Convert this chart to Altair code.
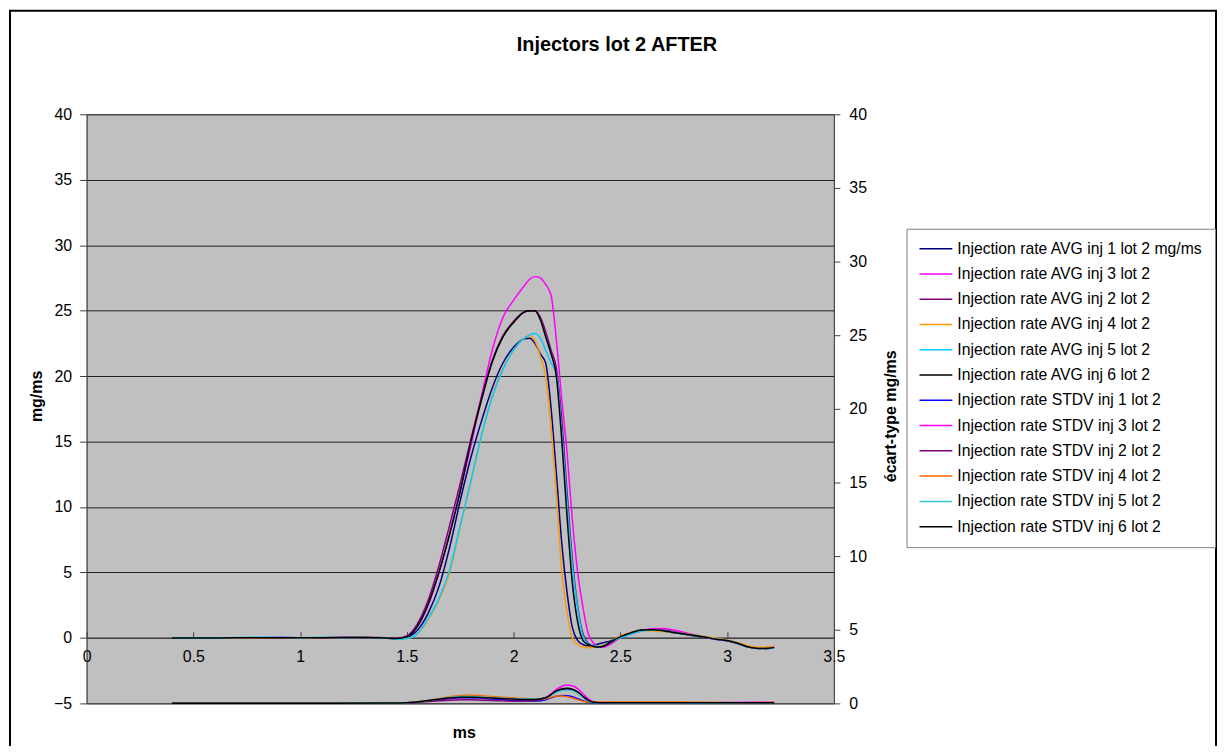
import altair as alt
import pandas as pd

FONT = "Liberation Sans"

SERIES = [
    "Injection rate AVG inj 1 lot 2 mg/ms",
    "Injection rate AVG inj 3 lot 2",
    "Injection rate AVG inj 2 lot 2",
    "Injection rate AVG inj 4 lot 2",
    "Injection rate AVG inj 5 lot 2",
    "Injection rate AVG inj 6 lot 2",
    "Injection rate STDV inj 1 lot 2",
    "Injection rate STDV inj 3 lot 2",
    "Injection rate STDV inj 2 lot 2",
    "Injection rate STDV inj 4 lot 2",
    "Injection rate STDV inj 5 lot 2",
    "Injection rate STDV inj 6 lot 2",
]
COLORS = ["#000080", "#FF00FF", "#800080", "#FF9900", "#00CCFF", "#000000",
          "#0000FF", "#FF00FF", "#800080", "#FF6600", "#33CCCC", "#000000"]

# time axis (ms) for the average injection-rate curves
AVG_X = [0.4, 0.6, 0.8, 0.9, 1.0, 1.1, 1.2, 1.3, 1.4, 1.45,
         1.5, 1.55, 1.6, 1.65, 1.7, 1.75, 1.8, 1.85, 1.9, 1.95, 2.0, 2.05,
         2.075, 2.1, 2.125, 2.15, 2.175, 2.2, 2.225, 2.25, 2.275, 2.3, 2.325, 2.35,
         2.375, 2.4, 2.425, 2.45,
         2.5, 2.55, 2.6, 2.65, 2.7, 2.75, 2.8, 2.85, 2.9, 2.95, 3.0, 3.05, 3.1,
         3.15, 3.2, 3.22]

AVG_INJ1 = [0, 0, 0.02, 0.02, 0.01, 0.02, 0.02, 0.03, 0.0, -0.08,
            0.05, 0.6, 1.9, 3.9, 6.9, 10.5, 13.8, 16.6, 19.1, 21.0, 22.2, 22.85,
            22.9, 22.5, 21.7, 21.0, 17.6, 12.6, 7.3, 3.5, 0.8, -0.2, -0.5, -0.6,
            -0.55, -0.45, -0.35, -0.25,
            0.05, 0.35, 0.58, 0.6, 0.52, 0.4, 0.28, 0.15, 0.03, -0.1, -0.22, -0.42, -0.7,
            -0.78, -0.75, -0.72]
AVG_INJ3 = [0, 0, 0.0, 0.05, 0.01, 0.02, 0.03, 0.03, 0.0, -0.05,
            0.1, 0.9, 2.5, 5.0, 8.0, 11.3, 14.7, 18.5, 22.0, 24.5, 25.8, 26.9,
            27.4, 27.6, 27.5, 27.0, 26.2, 22.8, 18.3, 14.2, 9.0, 5.0, 2.3, 0.3,
            -0.4, -0.65, -0.7, -0.5,
            0.0, 0.3, 0.55, 0.7, 0.72, 0.6, 0.42, 0.22, 0.05, -0.12, -0.22, -0.4, -0.68,
            -0.8, -0.78, -0.72]
AVG_INJ2 = [0, 0, 0.01, 0.02, 0.01, 0.02, 0.03, 0.03, 0.02, -0.02,
            0.15, 1.1, 2.9, 5.5, 8.6, 11.8, 15.2, 18.4, 21.2, 23.1, 24.2, 24.9,
            25.0, 25.0, 24.5, 23.4, 22.0, 20.6, 16.8, 11.2, 6.0, 2.4, 0.3, -0.4,
            -0.65, -0.7, -0.6, -0.4,
            0.05, 0.35, 0.58, 0.65, 0.6, 0.48, 0.32, 0.18, 0.04, -0.1, -0.22, -0.42, -0.7,
            -0.8, -0.78, -0.75]
AVG_INJ4 = [0, 0, 0.0, 0.01, 0.0, 0.01, 0.02, 0.03, 0.0, -0.1,
            -0.05, 0.3, 1.4, 2.9, 5.0, 8.5, 12.0, 15.5, 18.5, 20.6, 22.0, 22.9,
            23.1, 22.7, 21.5, 20.0, 16.2, 11.0, 5.2, 2.0, 0.0, -0.5, -0.7, -0.75,
            -0.7, -0.6, -0.5, -0.35,
            0.15, 0.42, 0.55, 0.55, 0.5, 0.42, 0.32, 0.22, 0.1, -0.02, -0.15, -0.35, -0.6,
            -0.72, -0.68, -0.62]
AVG_INJ5 = [0, 0, 0.05, 0.05, 0.0, 0.05, 0.02, 0.03, 0.0, -0.1,
            -0.05, 0.35, 1.5, 3.0, 5.2, 8.6, 12.0, 15.5, 18.4, 20.5, 22.0, 22.9,
            23.15, 23.25, 22.9, 22.0, 21.0, 20.2, 15.8, 10.5, 5.5, 2.2, 0.1, -0.45,
            -0.6, -0.65, -0.55, -0.35,
            0.0, 0.3, 0.52, 0.6, 0.55, 0.42, 0.3, 0.18, 0.05, -0.1, -0.2, -0.4, -0.72,
            -0.82, -0.8, -0.75]
AVG_INJ6 = [0, 0, 0.02, 0.02, 0.01, 0.02, 0.03, 0.03, 0.0, -0.05,
            0.1, 0.9, 2.6, 5.0, 7.9, 11.2, 15.0, 18.2, 21.1, 23.0, 24.1, 24.9,
            25.0, 25.0, 24.3, 23.0, 21.7, 20.0, 15.2, 9.3, 4.2, 1.2, -0.2, -0.5,
            -0.65, -0.7, -0.6, -0.35,
            0.1, 0.4, 0.6, 0.62, 0.55, 0.42, 0.3, 0.18, 0.05, -0.1, -0.2, -0.4, -0.7,
            -0.8, -0.78, -0.72]

# time axis (ms) for the standard-deviation curves (right axis)
STDV_X = [0.4, 1.0, 1.45, 1.5, 1.55, 1.6, 1.65, 1.7, 1.75, 1.8, 1.85, 1.9, 1.95,
          2.0, 2.05, 2.1, 2.15, 2.175, 2.2, 2.225, 2.25, 2.275, 2.3, 2.325, 2.35,
          2.375, 2.4, 2.5, 2.7, 2.9, 3.1, 3.22]

STDV_INJ1 = [0.01, 0.01, 0.02, 0.05, 0.1, 0.18, 0.26, 0.33, 0.38, 0.38, 0.35, 0.3, 0.25,
             0.2, 0.17, 0.16, 0.25, 0.38, 0.48, 0.53, 0.52, 0.45, 0.32, 0.18, 0.08,
             0.05, 0.04, 0.04, 0.05, 0.04, 0.05, 0.05]
STDV_INJ3 = [0.01, 0.01, 0.02, 0.05, 0.1, 0.18, 0.27, 0.35, 0.4, 0.42, 0.4, 0.36, 0.32,
             0.29, 0.27, 0.27, 0.4, 0.65, 0.95, 1.15, 1.24, 1.2, 1.0, 0.65, 0.3,
             0.1, 0.05, 0.05, 0.04, 0.05, 0.08, 0.08]
STDV_INJ2 = [0.01, 0.01, 0.02, 0.04, 0.08, 0.13, 0.18, 0.22, 0.24, 0.24, 0.22, 0.2, 0.17,
             0.15, 0.16, 0.2, 0.35, 0.58, 0.82, 0.95, 0.98, 0.92, 0.75, 0.45, 0.2,
             0.07, 0.04, 0.04, 0.04, 0.04, 0.05, 0.05]
STDV_INJ4 = [0.01, 0.01, 0.02, 0.05, 0.12, 0.22, 0.33, 0.45, 0.53, 0.56, 0.52, 0.46, 0.41,
             0.37, 0.33, 0.3, 0.32, 0.42, 0.5, 0.5, 0.45, 0.36, 0.25, 0.15, 0.1,
             0.1, 0.1, 0.1, 0.1, 0.08, 0.05, 0.07]
STDV_INJ5 = [0.01, 0.01, 0.02, 0.05, 0.11, 0.2, 0.3, 0.4, 0.46, 0.47, 0.44, 0.39, 0.35,
             0.32, 0.3, 0.29, 0.38, 0.55, 0.75, 0.86, 0.9, 0.85, 0.68, 0.4, 0.16,
             0.06, 0.04, 0.03, 0.03, 0.03, 0.04, 0.04]
STDV_INJ6 = [0.01, 0.01, 0.02, 0.05, 0.1, 0.19, 0.28, 0.36, 0.41, 0.42, 0.4, 0.36, 0.32,
             0.29, 0.27, 0.27, 0.38, 0.6, 0.85, 0.98, 1.02, 0.97, 0.78, 0.48, 0.2,
             0.07, 0.04, 0.04, 0.04, 0.04, 0.05, 0.05]

X_TICKS = [0, 0.5, 1, 1.5, 2, 2.5, 3, 3.5]
LEFT_TICKS = [-5, 0, 5, 10, 15, 20, 25, 30, 35, 40]
RIGHT_TICKS = [0, 5, 10, 15, 20, 25, 30, 35, 40]

avg_sets = [AVG_INJ1, AVG_INJ3, AVG_INJ2, AVG_INJ4, AVG_INJ5, AVG_INJ6]
stdv_sets = [STDV_INJ1, STDV_INJ3, STDV_INJ2, STDV_INJ4, STDV_INJ5, STDV_INJ6]

avg_rows = []
for name, ys in zip(SERIES[:6], avg_sets):
    for i, (xv, yv) in enumerate(zip(AVG_X, ys)):
        avg_rows.append({"x": xv, "y": yv, "series": name, "o": i})
stdv_rows = []
for name, ys in zip(SERIES[6:], stdv_sets):
    for i, (xv, yv) in enumerate(zip(STDV_X, ys)):
        stdv_rows.append({"x": xv, "y": yv, "series": name, "o": i})

avg_df = pd.DataFrame(avg_rows)
stdv_df = pd.DataFrame(stdv_rows)

W, H = 751, 592
TICK_FS = 16
TITLE_FS = 16

color = alt.Color(
    "series:N",
    scale=alt.Scale(domain=SERIES, range=COLORS),
    legend=alt.Legend(
        title=None, orient="none", legendX=824, legendY=115,
        symbolType="stroke", symbolSize=1089, symbolStrokeWidth=1.5,
        clipHeight=16,
        labelFont=FONT, labelFontSize=15.8, labelColor="black", labelLimit=400,
        labelOffset=4, padding=12, rowPadding=9.4,
        strokeColor="#808080", fillColor="white",
    ),
)

xscale = alt.Scale(domain=[0, 3.5], nice=False, zero=False)

avg = alt.Chart(avg_df).mark_line(interpolate="monotone", strokeWidth=1.5).encode(
    x=alt.X("x:Q", scale=xscale, axis=alt.Axis(
        orient="bottom", offset=-66, values=X_TICKS, format="~g", ticks=False,
        labelPadding=11, labelFlush=False, labelFont=FONT, labelFontSize=TICK_FS,
        labelColor="black", domainColor="#404040", grid=False,
        title="ms", titleFont=FONT, titleFontSize=TITLE_FS, titleFontWeight="bold",
        titleX=379, titleY=100, titleBaseline="alphabetic", titleAlign="center")),
    y=alt.Y("y:Q", scale=alt.Scale(domain=[-5, 40], nice=False, zero=False),
            axis=alt.Axis(
                orient="left", values=LEFT_TICKS, tickSize=7, tickColor="#404040",
                labelPadding=8, labelFont=FONT, labelFontSize=TICK_FS, labelColor="black",
                domainColor="#404040", grid=True, gridColor="#202020", gridWidth=1,
                title="mg/ms", titleFont=FONT, titleFontSize=TITLE_FS, titleFontWeight="bold",
                titleAngle=270, titleX=-50, titleY=283, titleAlign="center",
                titleBaseline="middle")),
    color=color,
    order="o:Q",
)

stdv = alt.Chart(stdv_df).mark_line(interpolate="monotone", strokeWidth=1.5).encode(
    x=alt.X("x:Q", scale=xscale, axis=alt.Axis(
        orient="top", offset=-526, values=X_TICKS, labels=False, domain=False,
        ticks=True, tickSize=6, tickColor="#404040", grid=False, title=None)),
    y=alt.Y("y:Q", scale=alt.Scale(domain=[0, 40], nice=False, zero=False),
            axis=alt.Axis(
                orient="right", values=RIGHT_TICKS, tickSize=6, tickColor="#404040",
                labelPadding=9, labelFont=FONT, labelFontSize=TICK_FS, labelColor="black",
                domainColor="#404040", grid=False,
                title="écart-type mg/ms", titleFont=FONT, titleFontSize=TITLE_FS,
                titleFontWeight="bold", titleAngle=270, titleX=57, titleY=303,
                titleAlign="center", titleBaseline="middle")),
    color=color,
    order="o:Q",
)

one = pd.DataFrame({"t": ["Injectors lot 2 AFTER"]})

frame = alt.Chart(one).mark_rect(filled=False, stroke="black", strokeWidth=2).encode(
    x=alt.value(-77), x2=alt.value(1135), y=alt.value(-104), y2=alt.value(700))

title = alt.Chart(one).mark_text(
    font=FONT, fontSize=20, fontWeight="bold", color="black",
    align="center", baseline="alphabetic").encode(
    text="t:N", x=alt.value(533), y=alt.value(-64))

chart = alt.layer(frame, avg, stdv, title).resolve_scale(
    y="independent"
).resolve_axis(
    x="independent", y="independent"
).properties(
    width=W, height=H,
    autosize=alt.AutoSizeParams(type="none"),
    padding={"left": 79, "top": 105, "right": 386, "bottom": 41},
    background="white",
).configure_view(
    fill="#C0C0C0", stroke="#808080", strokeWidth=1
)

chart.save("out.html", embed_options={"renderer": "svg", "actions": False})
